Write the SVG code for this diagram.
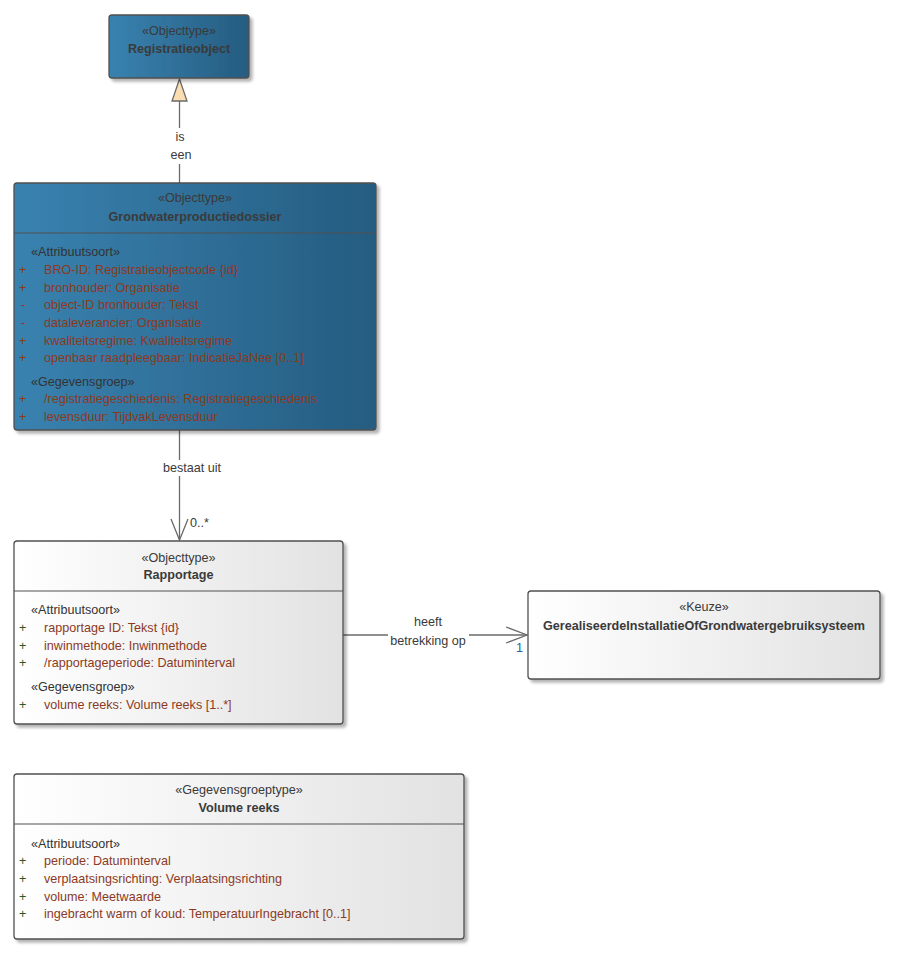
<svg xmlns="http://www.w3.org/2000/svg" width="898" height="958" viewBox="0 0 898 958">
<defs>
<linearGradient id="gBlue" x1="0" y1="0" x2="1" y2="0">
<stop offset="0" stop-color="#3982B0"/>
<stop offset="1" stop-color="#255C80"/>
</linearGradient>
<linearGradient id="gWhite" x1="0" y1="0" x2="1" y2="0">
<stop offset="0" stop-color="#FFFFFF"/>
<stop offset="1" stop-color="#E2E2E2"/>
</linearGradient>
<filter id="sh" x="-5%" y="-5%" width="115%" height="115%">
<feGaussianBlur in="SourceAlpha" stdDeviation="1.5"/>
<feOffset dx="3" dy="3" result="b"/>
<feComponentTransfer><feFuncA type="linear" slope="0.3"/></feComponentTransfer>
<feMerge><feMergeNode/><feMergeNode in="SourceGraphic"/></feMerge>
</filter>
</defs>
<style>
text{font-family:"Liberation Sans","Open Sans",sans-serif;font-size:12.6px;}
.box{stroke:#505050;stroke-width:1.3;}
.blue{fill:url(#gBlue);}
.white{fill:url(#gWhite);}
.sep{stroke:#505050;stroke-width:1;}
.st{fill:#3a3a3a;text-anchor:middle;}
.nm{fill:#3a3a3a;text-anchor:middle;font-weight:bold;}
.grp{fill:#333333;}
.at{fill:#8B3A1E;}
.vis{fill:#2F5324;}
.visb{fill:#8B3A1E;}
.ln{stroke:#6a6a6a;stroke-width:1.3;fill:none;}
.lbl{fill:#3a3a3a;text-anchor:middle;}
</style>
<g id="connectors">
<line class="ln" x1="179.5" y1="101" x2="179.5" y2="183"/>
<polygon points="179.5,79 172,101 187,101" fill="#FADDB0" stroke="#6a6a6a" stroke-width="1.3"/>
<rect x="170" y="128" width="22" height="36" fill="#FFFFFF"/>
<text class="lbl" x="180" y="141">is</text>
<text class="lbl" x="181" y="159">een</text>
<line class="ln" x1="179.5" y1="430" x2="179.5" y2="540"/>
<polyline class="ln" points="171,519 179.5,540 188,519"/>
<rect x="158" y="460" width="68" height="16" fill="#FFFFFF"/>
<text class="lbl" x="192" y="472">bestaat uit</text>
<text x="190" y="527" fill="#3a3a3a">0..*</text>
<line class="ln" x1="343" y1="635" x2="527" y2="635"/>
<polyline class="ln" points="506,627 527,635 506,643"/>
<rect x="388" y="612" width="81" height="37" fill="#FFFFFF"/>
<text class="lbl" x="428" y="626">heeft</text>
<text class="lbl" x="428" y="645">betrekking op</text>
<text x="516" y="652" fill="#2860A8">1</text>
</g>
<g id="Registratieobject">
<rect class="box blue" x="109" y="15" width="140" height="63" rx="3" filter="url(#sh)"/>
<text class="st" x="179" y="35">«Objecttype»</text>
<text class="nm" x="179" y="53">Registratieobject</text>
</g>
<g id="Grondwaterproductiedossier">
<rect class="box blue" x="14" y="183" width="362" height="247" rx="3" filter="url(#sh)"/>
<line class="sep" x1="14" y1="233" x2="376" y2="233"/>
<text class="st" x="195" y="202">«Objecttype»</text>
<text class="nm" x="195" y="221">Grondwaterproductiedossier</text>
<text class="grp" x="31" y="256">«Attribuutsoort»</text>
<text class="visb" x="19" y="274">+</text><text class="at" x="44" y="274">BRO-ID: Registratieobjectcode {id}</text>
<text class="visb" x="19" y="292">+</text><text class="at" x="44" y="292">bronhouder: Organisatie</text>
<text class="visb" x="21" y="309">-</text><text class="at" x="44" y="309">object-ID bronhouder: Tekst</text>
<text class="visb" x="21" y="327">-</text><text class="at" x="44" y="327">dataleverancier: Organisatie</text>
<text class="visb" x="19" y="345">+</text><text class="at" x="44" y="345">kwaliteitsregime: Kwaliteitsregime</text>
<text class="visb" x="19" y="362">+</text><text class="at" x="44" y="362">openbaar raadpleegbaar: IndicatieJaNee [0..1]</text>
<text class="grp" x="31" y="386">«Gegevensgroep»</text>
<text class="visb" x="19" y="403">+</text><text class="at" x="44" y="403">/registratiegeschiedenis: Registratiegeschiedenis</text>
<text class="visb" x="19" y="421">+</text><text class="at" x="44" y="421">levensduur: TijdvakLevensduur</text>
</g>
<g id="Rapportage">
<rect class="box white" x="14" y="541" width="329" height="183" rx="3" filter="url(#sh)"/>
<line class="sep" x1="14" y1="591" x2="343" y2="591"/>
<text class="st" x="178.5" y="562">«Objecttype»</text>
<text class="nm" x="178.5" y="579">Rapportage</text>
<text class="grp" x="31" y="614">«Attribuutsoort»</text>
<text class="vis" x="19" y="632">+</text><text class="at" x="44" y="632">rapportage ID: Tekst {id}</text>
<text class="vis" x="19" y="650">+</text><text class="at" x="44" y="650">inwinmethode: Inwinmethode</text>
<text class="vis" x="19" y="667">+</text><text class="at" x="44" y="667">/rapportageperiode: Datuminterval</text>
<text class="grp" x="31" y="691">«Gegevensgroep»</text>
<text class="vis" x="19" y="709">+</text><text class="at" x="44" y="709">volume reeks: Volume reeks [1..*]</text>
</g>
<g id="GerealiseerdeInstallatieOfGrondwatergebruiksysteem">
<rect class="box white" x="528" y="591" width="352" height="88" rx="3" filter="url(#sh)"/>
<text class="st" x="704" y="611">«Keuze»</text>
<text class="nm" x="704" y="630">GerealiseerdeInstallatieOfGrondwatergebruiksysteem</text>
</g>
<g id="VolumeReeks">
<rect class="box white" x="14" y="774" width="450" height="165" rx="3" filter="url(#sh)"/>
<line class="sep" x1="14" y1="824" x2="464" y2="824"/>
<text class="st" x="239" y="794">«Gegevensgroeptype»</text>
<text class="nm" x="239" y="812">Volume reeks</text>
<text class="grp" x="31" y="848">«Attribuutsoort»</text>
<text class="vis" x="19" y="865">+</text><text class="at" x="44" y="865">periode: Datuminterval</text>
<text class="vis" x="19" y="883">+</text><text class="at" x="44" y="883">verplaatsingsrichting: Verplaatsingsrichting</text>
<text class="vis" x="19" y="901">+</text><text class="at" x="44" y="901">volume: Meetwaarde</text>
<text class="vis" x="19" y="918">+</text><text class="at" x="44" y="918">ingebracht warm of koud: TemperatuurIngebracht [0..1]</text>
</g>
</svg>
